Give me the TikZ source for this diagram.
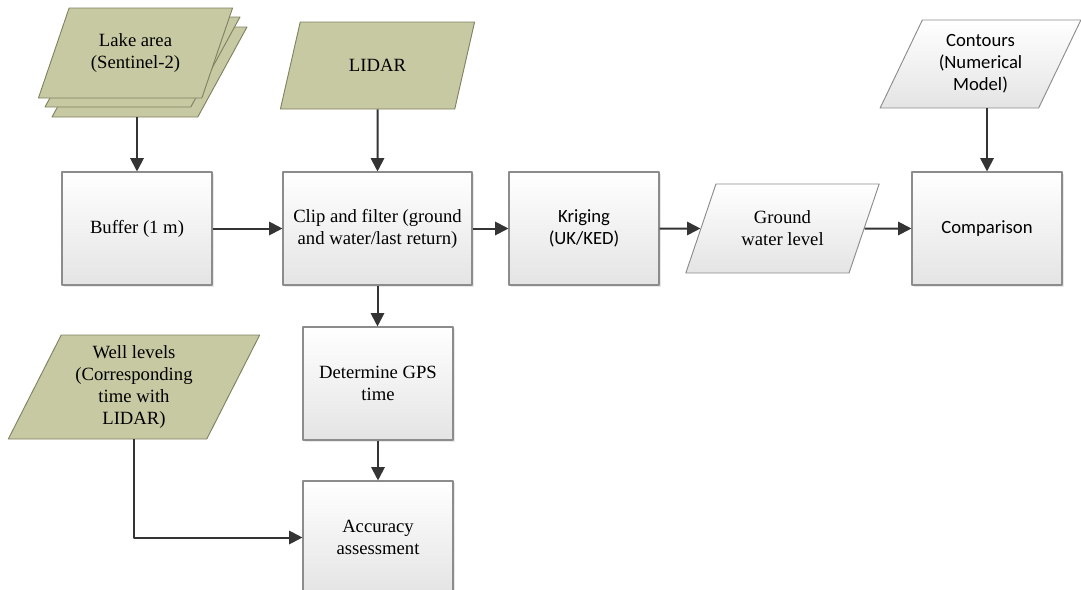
\documentclass[tikz,border=0pt]{standalone}
\usepackage{fontspec}
\setmainfont{Liberation Serif}
\newfontfamily\calfont{Carlito}
\usetikzlibrary{shapes.geometric,arrows.meta,shadows}
\definecolor{datagreen}{RGB}{198,201,161}
\definecolor{greenline}{RGB}{128,130,100}
\definecolor{boxline}{RGB}{140,140,140}
\definecolor{boxgray}{RGB}{228,228,228}
\definecolor{arrowgray}{RGB}{52,52,52}
\tikzset{
  procbox/.style={draw=boxline, line width=0.8pt, top color=white, bottom color=boxgray,
    drop shadow={shadow xshift=1.5pt, shadow yshift=-1.5pt, fill=black!18},
    minimum width=112.5pt, minimum height=84.75pt, align=center, inner sep=2pt},
  datain/.style={trapezium, trapezium left angle=63, trapezium right angle=117,
    trapezium stretches=true, line width=0.7pt, align=center, inner sep=1pt},
  greendata/.style={datain, fill=datagreen, draw=greenline},
  graydata/.style={datain, draw=boxline, top color=white, bottom color=boxgray},
  arr/.style={draw=arrowgray, line width=1.5pt, ->}
}
\begin{document}
\begin{tikzpicture}[x=0.75pt, y=-0.75pt, font=\fontsize{14}{16.5}\selectfont,
  >={Triangle[length=10pt,width=10pt]}, line join=round]
\useasboundingbox (0,0) rectangle (1081,589);
% inputs
\node[greendata, minimum width=146.25pt, minimum height=67.5pt] (lake3) at (149.5,72) {};
\node[greendata, minimum width=146.25pt, minimum height=67.5pt] (lake2) at (142.5,62) {};
\node[greendata, minimum width=146.25pt, minimum height=67.5pt] (lake) at (135.5,53) {Lake area\\(Sentinel-2)};
\node[greendata, minimum width=146.25pt, minimum height=65.25pt] (lidar) at (377.5,65.5) {LIDAR};
\node[graydata, minimum width=150.75pt, minimum height=66pt, font=\calfont\fontsize{14}{16.5}\selectfont] (contours) at (980.5,64) {Contours\\(Numerical\\Model)};
\node[greendata, minimum width=189pt, minimum height=78pt] (well) at (134,387) {Well levels\\(Corresponding\\time with\\LIDAR)};
% processing
\node[procbox] (buffer) at (137,228.5) {Buffer (1 m)};
\node[procbox, minimum width=141.75pt] (clip) at (377.5,228.5) {Clip and filter (ground\\and water/last return)};
\node[procbox, font=\calfont\fontsize{14}{16.5}\selectfont] (kriging) at (584,228.5) {Kriging\\(UK/KED)};
\node[graydata, minimum width=146.25pt, minimum height=66.75pt] (gwl) at (782.5,228.5) {Ground\\water level};
\node[procbox, font=\calfont\fontsize{14}{16.5}\selectfont] (comparison) at (987,228.5) {Comparison};
\node[procbox] (gps) at (378,383.5) {Determine GPS\\time};
\node[procbox] (accuracy) at (378,537.5) {Accuracy\\assessment};
% connectors
\draw[arr] (buffer.north |- lake3.south) -- (buffer.north);
\draw[arr] (lidar) -- (clip);
\draw[arr] (comparison.north |- contours.south) -- (comparison.north);
\draw[arr] (buffer) -- (clip);
\draw[arr] (clip) -- (kriging);
\draw[arr] (kriging) -- (gwl);
\draw[arr] (gwl) -- (comparison);
\draw[arr] (clip.south) -- (clip.south |- gps.north);
\draw[arr] (gps) -- (accuracy);
\draw[arr] (well) |- (accuracy);
\end{tikzpicture}
\end{document}
